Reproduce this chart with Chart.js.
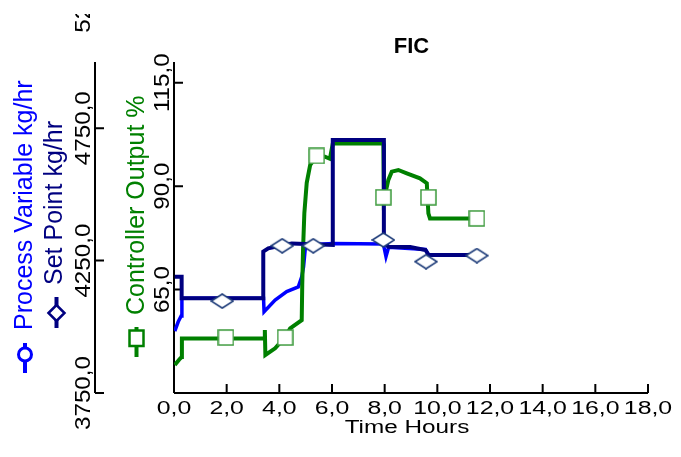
<!DOCTYPE html>
<html>
<head>
<meta charset="utf-8">
<script src="https://cdn.jsdelivr.net/npm/chart.js@4/dist/chart.umd.min.js"></script>
<style>
  body { margin: 0; background: #fff; }
  canvas { display: block; }
</style>
</head>
<body>
<canvas id="ficChart" width="681" height="457"></canvas>
<script>
// tick values
const xTicks = [0, 2, 4, 6, 8, 10, 12, 14, 16, 18];
const pvTicks = [3750, 4250, 4750, 5250];
const coTicks = [65, 90, 115];

// Set Point kg/hr
const spTime = [0.03, 0.29, 0.29, 3.39, 3.39, 3.58, 4.47, 6.03, 6.03, 7.97, 7.97, 8.14, 8.97, 9.55, 9.67, 11.5];
const spValue = [4189, 4189, 4108, 4108, 4284, 4296, 4315, 4309, 4705, 4705, 4321, 4302, 4301, 4290, 4271, 4271];

// Process Variable kg/hr
const pvTime = [0.03, 0.16, 0.27, 0.30, 3.40, 3.42, 3.84, 4.28, 4.72, 4.85, 4.92, 4.98, 5.05, 6.03, 7.95, 8.05, 8.15, 9.55, 9.67, 11.5];
const pvValue = [3984, 4019, 4041, 4108, 4108, 4057, 4101, 4133, 4151, 4189, 4227, 4290, 4309, 4315, 4313, 4265, 4300, 4292, 4271, 4271];

// Controller Output %
const coTime = [0.03, 0.20, 0.29, 0.30, 3.45, 3.45, 3.47, 3.84, 4.22, 4.41, 4.85, 4.87, 4.90, 4.95, 5.04, 5.17, 5.42, 5.73, 5.92, 6.03, 7.95, 7.97, 8.07, 8.14, 8.27, 8.52, 8.84, 9.34, 9.60, 9.66, 9.72, 11.5];
const coValue = [46.8, 48.1, 48.7, 53.2, 53.2, 55.2, 49.2, 50.8, 53.5, 55.6, 57.6, 66.1, 74.6, 83.5, 90.8, 95.1, 97.3, 97.1, 96.6, 100.3, 100.3, 87.4, 89.5, 91.5, 93.5, 93.9, 93.1, 91.9, 90.7, 83.4, 82.2, 82.2];

// marker points
const spMarkTime = [1.83, 4.11, 5.29, 7.95, 9.57, 11.5];
const spMarkValue = [4097, 4306, 4306, 4328, 4246, 4269];
const coMarkTime = [1.97, 4.22, 5.42, 7.95, 9.66, 11.5];
const coMarkValue = [53.4, 53.4, 97.3, 87.3, 87.3, 82.2];

const BLUE = '#0000ff';
const NAVY = '#000080';
const GREEN = '#008000';
const FONT = '"Liberation Sans", Arial, sans-serif';

function pts(xs, ys) {
    return xs.map((x, i) => ({ x: x, y: ys[i] }));
}

function fmt(v) {
    return v.toFixed(1).replace('.', ',');
}

function diamondImg() {
    const c = document.createElement('canvas');
    c.width = 24; c.height = 16;
    const g = c.getContext('2d');
    g.beginPath();
    g.moveTo(1, 8); g.lineTo(12, 1); g.lineTo(23, 8); g.lineTo(12, 15); g.closePath();
    g.fillStyle = '#fff'; g.fill();
    g.strokeStyle = '#1f3d7a'; g.lineWidth = 1.5; g.stroke();
    return c;
}

function squareImg() {
    const c = document.createElement('canvas');
    c.width = 17; c.height = 17;
    const g = c.getContext('2d');
    g.fillStyle = '#fff'; g.fillRect(1, 1, 15, 15);
    g.strokeStyle = '#3c9a3c'; g.lineWidth = 1.5; g.strokeRect(1, 1, 15, 15);
    return c;
}

function drawText(ctx, text, x, y, o) {
    ctx.save();
    ctx.translate(x, y);
    if (o.rotate) ctx.rotate(-Math.PI / 2);
    ctx.scale(o.sx || 1, 1);
    ctx.font = (o.bold ? 'bold ' : '') + o.size + 'px ' + FONT;
    ctx.fillStyle = o.color || '#000';
    ctx.textAlign = o.align || 'center';
    ctx.textBaseline = 'alphabetic';
    ctx.fillText(text, 0, 0);
    ctx.restore();
}

const axesPlugin = {
    id: 'ficAxes',
    beforeDatasetsDraw(chart) {
        const ctx = chart.ctx;
        const a = chart.chartArea;
        const x = chart.scales.x, pv = chart.scales.pv, co = chart.scales.co;
        const outerX = 95;
        ctx.save();
        ctx.strokeStyle = '#000';
        ctx.lineWidth = 2;
        ctx.beginPath();
        // x axis
        ctx.moveTo(a.left, a.bottom); ctx.lineTo(a.right, a.bottom);
        xTicks.forEach(t => {
            const px = x.getPixelForValue(t);
            ctx.moveTo(px, a.bottom); ctx.lineTo(px, a.bottom - 9);
        });
        // inner axis (controller output)
        ctx.moveTo(a.left, a.top); ctx.lineTo(a.left, a.bottom);
        coTicks.forEach(t => {
            const py = co.getPixelForValue(t);
            ctx.moveTo(a.left, py); ctx.lineTo(a.left + 9, py);
        });
        // outer axis (kg/hr)
        ctx.moveTo(outerX, a.top); ctx.lineTo(outerX, a.bottom);
        pvTicks.forEach(t => {
            const py = pv.getPixelForValue(t);
            if (py < a.top - 1) return;
            ctx.moveTo(outerX, py); ctx.lineTo(outerX + 9, py);
        });
        ctx.stroke();
        ctx.restore();
    },
    afterDraw(chart) {
        const ctx = chart.ctx;
        const x = chart.scales.x, pv = chart.scales.pv, co = chart.scales.co;

        xTicks.forEach(t => {
            drawText(ctx, fmt(t), x.getPixelForValue(t), 414, { size: 18, sx: 1.38 });
        });
        drawText(ctx, 'Time Hours', 407, 433, { size: 18, sx: 1.35 });
        drawText(ctx, 'FIC', 411.5, 52.5, { size: 22, bold: true });

        // the top label runs off the drawing area, as in the original
        ctx.save();
        ctx.beginPath();
        ctx.rect(0, 14, chart.width, chart.height);
        ctx.clip();
        pvTicks.forEach(t => {
            drawText(ctx, fmt(t), 89.5, pv.getPixelForValue(t), { size: 22, sx: 1.1, rotate: true });
        });
        coTicks.forEach(t => {
            drawText(ctx, fmt(t), 168.5, co.getPixelForValue(t), { size: 22, sx: 1.1, rotate: true });
        });
        ctx.restore();

        // axis titles with legend symbols
        drawText(ctx, 'Process Variable kg/hr', 32, 330, { size: 25, rotate: true, align: 'left', color: BLUE });
        drawText(ctx, 'Set Point kg/hr', 62, 285, { size: 25, rotate: true, align: 'left', color: NAVY });
        drawText(ctx, 'Controller Output %', 143.5, 315, { size: 25, rotate: true, align: 'left', color: GREEN });

        ctx.save();
        ctx.lineWidth = 4;
        ctx.strokeStyle = BLUE;
        ctx.beginPath(); ctx.moveTo(25, 343); ctx.lineTo(25, 373); ctx.stroke();
        ctx.lineWidth = 3;
        ctx.beginPath(); ctx.arc(25, 354.5, 6.5, 0, Math.PI * 2);
        ctx.fillStyle = '#fff'; ctx.fill(); ctx.stroke();

        ctx.lineWidth = 4;
        ctx.strokeStyle = NAVY;
        ctx.beginPath(); ctx.moveTo(56.5, 297); ctx.lineTo(56.5, 328); ctx.stroke();
        ctx.lineWidth = 2.5;
        ctx.beginPath();
        ctx.moveTo(48.5, 313); ctx.lineTo(56.5, 305); ctx.lineTo(64.5, 313); ctx.lineTo(56.5, 321); ctx.closePath();
        ctx.fill(); ctx.stroke();

        ctx.lineWidth = 4;
        ctx.strokeStyle = GREEN;
        ctx.beginPath(); ctx.moveTo(136.5, 327); ctx.lineTo(136.5, 357); ctx.stroke();
        ctx.lineWidth = 2.5;
        ctx.beginPath(); ctx.rect(129.5, 330.5, 14, 15.5);
        ctx.fill(); ctx.stroke();
        ctx.restore();
    }
};

const ctx = document.getElementById('ficChart').getContext('2d');
const chart = new Chart(ctx, {
    type: 'line',
    data: {
        datasets: [
            {
                label: 'Set Point markers',
                data: pts(spMarkTime, spMarkValue),
                yAxisID: 'pv',
                showLine: false,
                pointStyle: diamondImg(),
                pointRadius: 8,
                order: 0
            },
            {
                label: 'Controller Output markers',
                data: pts(coMarkTime, coMarkValue),
                yAxisID: 'co',
                showLine: false,
                pointStyle: squareImg(),
                pointRadius: 8,
                order: 1
            },
            {
                label: 'Set Point kg/hr',
                data: pts(spTime, spValue),
                yAxisID: 'pv',
                borderColor: NAVY,
                borderWidth: 4,
                pointRadius: 0,
                order: 2
            },
            {
                label: 'Controller Output %',
                data: pts(coTime, coValue),
                yAxisID: 'co',
                borderColor: GREEN,
                borderWidth: 4,
                pointRadius: 0,
                order: 3
            },
            {
                label: 'Process Variable kg/hr',
                data: pts(pvTime, pvValue),
                yAxisID: 'pv',
                borderColor: BLUE,
                borderWidth: 3.5,
                pointRadius: 0,
                order: 4
            }
        ]
    },
    options: {
        responsive: false,
        animation: false,
        devicePixelRatio: 1,
        layout: { padding: { left: 174, right: 33, top: 62, bottom: 64 } },
        elements: { line: { tension: 0, fill: false } },
        scales: {
            x: { type: 'linear', min: 0, max: 18, display: false },
            pv: { type: 'linear', position: 'left', min: 3750, max: 5000, display: false },
            co: { type: 'linear', position: 'left', min: 40, max: 120, display: false }
        },
        plugins: {
            legend: { display: false },
            tooltip: { enabled: false }
        }
    },
    plugins: [axesPlugin]
});
</script>
</body>
</html>
